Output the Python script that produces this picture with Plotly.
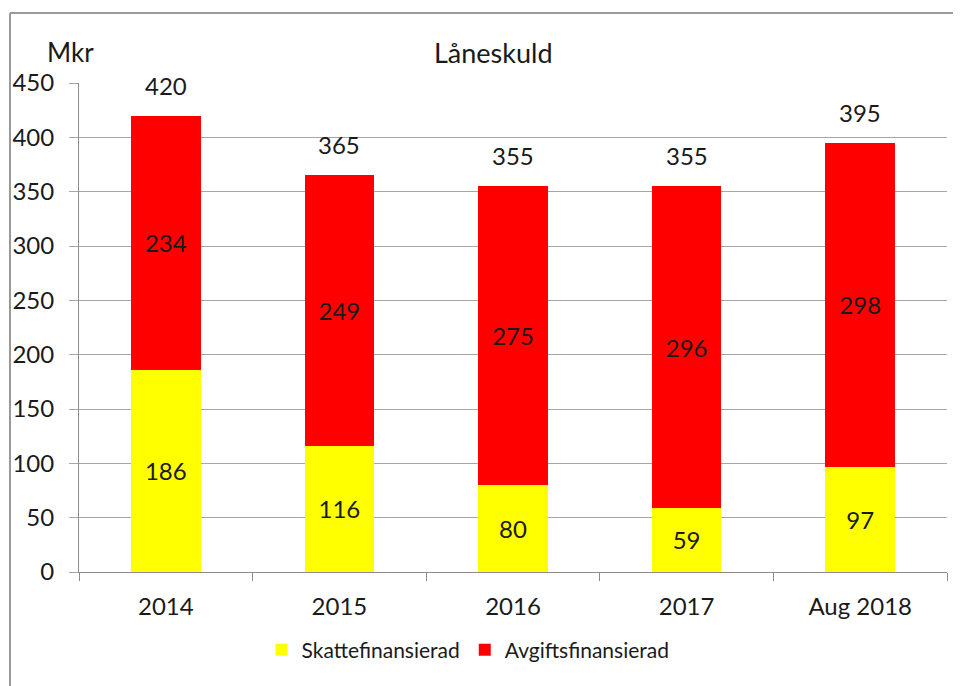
import plotly.graph_objects as go

categories = ["2014", "2015", "2016", "2017", "Aug 2018"]
skatt = [186, 116, 80, 59, 97]
avgift = [234, 249, 275, 296, 298]
totals = [s + a for s, a in zip(skatt, avgift)]
y_ticks = [0, 50, 100, 150, 200, 250, 300, 350, 400, 450]

FONT = "Lato"
TXT = "#1a1a1a"

OFF = 8  # page offset of the rendered figure
W, H = 961, 686
L, R, T, B = 79 - OFF, 14 + OFF, 83 - OFF, 114 + OFF
pw, ph = W - L - R, H - T - B

def px_x(x):
    return (x - OFF - L) / pw

def px_y(y):
    return (H - B - (y - OFF)) / ph

fig = go.Figure()
fig.add_trace(go.Bar(
    x=categories, y=skatt, name="Skattefinansierad",
    marker=dict(color="#FFFF00", line=dict(width=0)),
    text=skatt, textposition="inside", insidetextanchor="middle",
    textfont=dict(family=FONT, size=24, color=TXT), constraintext="none",
    textangle=0,
))
fig.add_trace(go.Bar(
    x=categories, y=avgift, name="Avgiftsfinansierad",
    marker=dict(color="#FF0000", line=dict(width=0)),
    text=avgift, textposition="inside", insidetextanchor="middle",
    textfont=dict(family=FONT, size=24, color=TXT), constraintext="none",
    textangle=0,
))

annotations = [
    dict(x=i, y=t, xref="x", yref="y", text=str(t), showarrow=False,
         yanchor="bottom", yshift=14,
         font=dict(family=FONT, size=24, color=TXT))
    for i, t in enumerate(totals)
]
annotations += [
    dict(text="Låneskuld", xref="paper", yref="paper",
         x=px_x(493), y=px_y(52), xanchor="center", yanchor="middle",
         showarrow=False, font=dict(family=FONT, size=27, color=TXT)),
    dict(text="Mkr", xref="paper", yref="paper",
         x=px_x(70), y=px_y(52), xanchor="center", yanchor="middle",
         showarrow=False, font=dict(family=FONT, size=26, color=TXT)),
]

fig.update_layout(
    width=W, height=H,
    margin=dict(l=L, r=R, t=T, b=B, pad=0, autoexpand=False),
    barmode="stack", bargap=0.6,
    paper_bgcolor="white", plot_bgcolor="white",
    font=dict(family=FONT, color=TXT),
    showlegend=True,
    legend=dict(orientation="h", x=px_x(468), xanchor="center",
                y=px_y(650), yanchor="middle",
                font=dict(family=FONT, size=21, color=TXT),
                traceorder="normal", itemwidth=30),
    xaxis=dict(type="category", range=[-0.5, len(categories) - 0.5],
               showgrid=False, showline=True, automargin=False,
               linecolor="#8c8c8c", linewidth=1, ticks="outside",
               tickson="boundaries", ticklen=8, tickcolor="#8c8c8c",
               tickangle=0, ticklabelstandoff=13,
               tickfont=dict(family=FONT, size=24, color=TXT)),
    yaxis=dict(range=[0, 450], tickvals=y_ticks, showgrid=True,
               gridcolor="#a6a6a6", gridwidth=1, showline=True,
               automargin=False,
               linecolor="#8c8c8c", linewidth=1, ticks="outside",
               ticklen=9, tickcolor="#a6a6a6", zeroline=False,
               ticklabelstandoff=10,
               tickfont=dict(family=FONT, size=24, color=TXT)),
    annotations=annotations,
    shapes=[
        dict(type="line", xref="paper", yref="paper",
             x0=px_x(10), x1=px_x(980), y0=px_y(13), y1=px_y(13),
             line=dict(color="#9a9a9a", width=2)),
        dict(type="line", xref="paper", yref="paper",
             x0=px_x(10), x1=px_x(10), y0=px_y(13), y1=px_y(700),
             line=dict(color="#9a9a9a", width=2)),
    ],
)

fig.write_html("out.html")
